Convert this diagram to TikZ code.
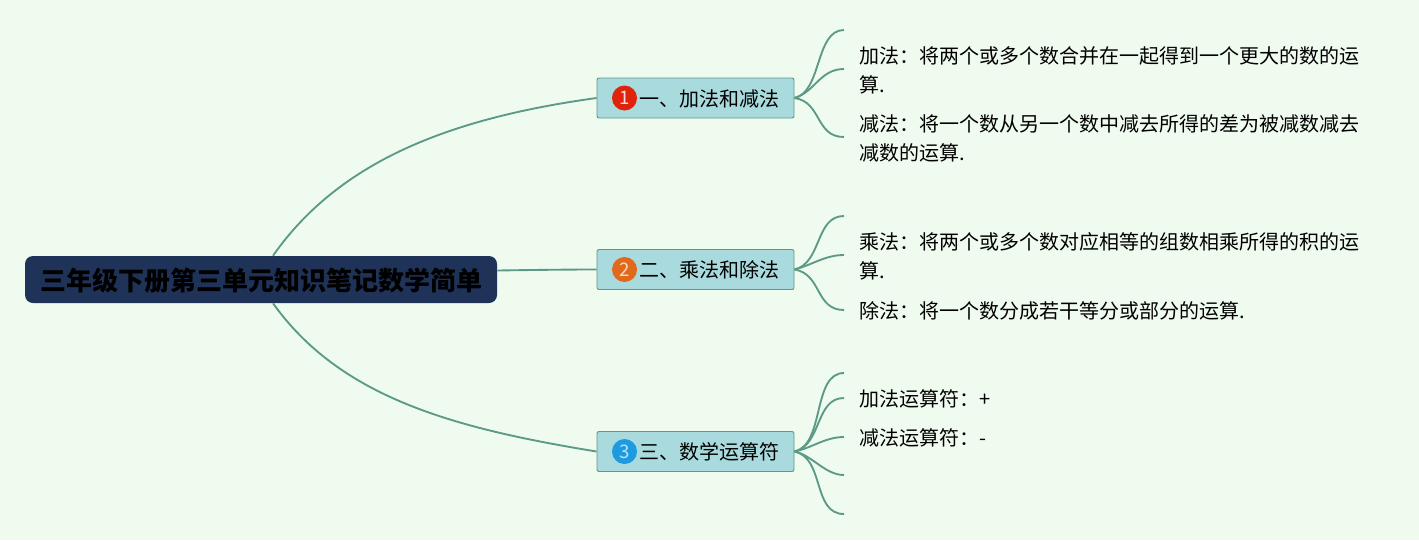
\documentclass[tikz,border=0pt]{standalone}
\usepackage{fontspec}
\setmainfont{Noto Sans CJK SC}
\usepackage{xcolor}
\usepackage{tikz}
\usetikzlibrary{positioning}

\definecolor{pagegreen}{HTML}{F0FBEF}
\definecolor{linegreen}{HTML}{5B9A87}
\definecolor{boxblue}{HTML}{A9DADD}
\definecolor{rootnavy}{HTML}{1F3358}
\definecolor{dotred}{HTML}{E2230C}
\definecolor{dotorange}{HTML}{E0691B}
\definecolor{dotblue}{HTML}{1C9BE1}

\newcommand{\widecolon}{\symbol{"FF1A}}
\newcommand{\nudgedown}[2]{\raisebox{-#1}[\height][\depth]{#2}}

\begin{document}
\begin{tikzpicture}[x=0.75pt, y=-0.75pt]
	\tikzstyle{rootbox}=[draw=none, fill=rootnavy, rounded corners=6pt, minimum width=354pt, minimum height=35.25pt, inner sep=0pt, text=black, font=\fontsize{19.5}{24}\selectfont\bfseries]
	\tikzstyle{branchbox}=[draw=linegreen, line width=0.7pt, fill=boxblue, rounded corners=1.5pt, minimum width=147.75pt, minimum height=30pt, inner sep=0pt, text=black, font=\fontsize{15}{20}\selectfont]
	\tikzstyle{numdot}=[circle, draw=none, minimum size=18.75pt, inner sep=0pt, font=\fontsize{14}{15}\selectfont]
	\tikzstyle{leaftext}=[anchor=west, align=left, inner sep=0pt, text=black, font=\fontsize{15}{21.75}\selectfont]
	\tikzstyle{mainline}=[draw=linegreen, line width=1.4pt]
	\tikzstyle{leafline}=[draw=linegreen, line width=1.4pt]

	\useasboundingbox (0,0) rectangle (1419,540);
	\fill [pagegreen] (0,0) rectangle (1419,540);

	\node (root) at (261,279.5) [rootbox] {\nudgedown{1.2pt}{三年级下册第三单元知识笔记数学简单}};

	\node (b1) at (695.5,98) [branchbox] {\hspace{21pt}\nudgedown{0.6pt}{一、加法和减法}};
	\node (b2) at (695.5,269.5) [branchbox] {\hspace{21pt}\nudgedown{0.6pt}{二、乘法和除法}};
	\node (b3) at (695.5,451.5) [branchbox] {\hspace{21pt}\nudgedown{0.6pt}{三、数学运算符}};

	\node (n1) at (624.5,98) [numdot, fill=dotred, text=white!85!dotred] {1};
	\node (n2) at (624.5,269.5) [numdot, fill=dotorange, text=white!75!dotorange] {2};
	\node (n3) at (624.5,451.5) [numdot, fill=dotblue, text=white!70!dotblue] {3};

	% main branches
	\draw [mainline] ([xshift=9pt]root.north) .. controls (340,160) and (452,118) .. (b1.west);
	\draw [mainline] (root.east |- 0,270.5) .. controls (530,270) and (565,269.5) .. (b2.west);
	\draw [mainline] ([xshift=9pt]root.south) .. controls (340,397) and (452,428) .. (b3.west);

	% leaf texts
	\node (t1) at (859,70) [leaftext] {加法\widecolon 将两个或多个数合并在一起得到一个更大的数的运\\算.};
	\node (t2) at (859,138.5) [leaftext] {减法\widecolon 将一个数从另一个数中减去所得的差为被减数减去\\减数的运算.};
	\node (t3) at (859,256) [leaftext] {乘法\widecolon 将两个或多个数对应相等的组数相乘所得的积的运\\算.};
	\node (t4) at (859,310.5) [leaftext] {除法\widecolon 将一个数分成若干等分或部分的运算.};
	\node (t5) at (859,398.5) [leaftext] {加法运算符\widecolon +};
	\node (t6) at (859,437.5) [leaftext] {减法运算符\widecolon -};

	% free ends of the leaf lines
	\coordinate (e11) at (844,30);
	\coordinate (e12) at (844,69);
	\coordinate (e13) at (844,137);
	\coordinate (e21) at (844,216);
	\coordinate (e22) at (844,255);
	\coordinate (e23) at (844,310);
	\coordinate (e31) at (844,373);
	\coordinate (e32) at (844,398);
	\coordinate (e33) at (844,437);
	\coordinate (e34) at (844,475);
	\coordinate (e35) at (844,514);

	\draw [leafline] (b1.east) .. controls (822,92) and (815,30) .. (e11);
	\draw [leafline] (b1.east) .. controls (815,92) and (820,69) .. (e12);
	\draw [leafline] (b1.east) .. controls (822,102) and (815,137) .. (e13);

	\draw [leafline] (b2.east) .. controls (822,263) and (815,216) .. (e21);
	\draw [leafline] (b2.east) .. controls (812,265) and (825,255) .. (e22);
	\draw [leafline] (b2.east) .. controls (822,274) and (815,310) .. (e23);

	\draw [leafline] (b3.east) .. controls (825,445) and (812,373) .. (e31);
	\draw [leafline] (b3.east) .. controls (822,445) and (815,398) .. (e32);
	\draw [leafline] (b3.east) .. controls (812,448) and (825,437) .. (e33);
	\draw [leafline] (b3.east) .. controls (812,455) and (825,475) .. (e34);
	\draw [leafline] (b3.east) .. controls (825,458) and (812,514) .. (e35);
\end{tikzpicture}
\end{document}
